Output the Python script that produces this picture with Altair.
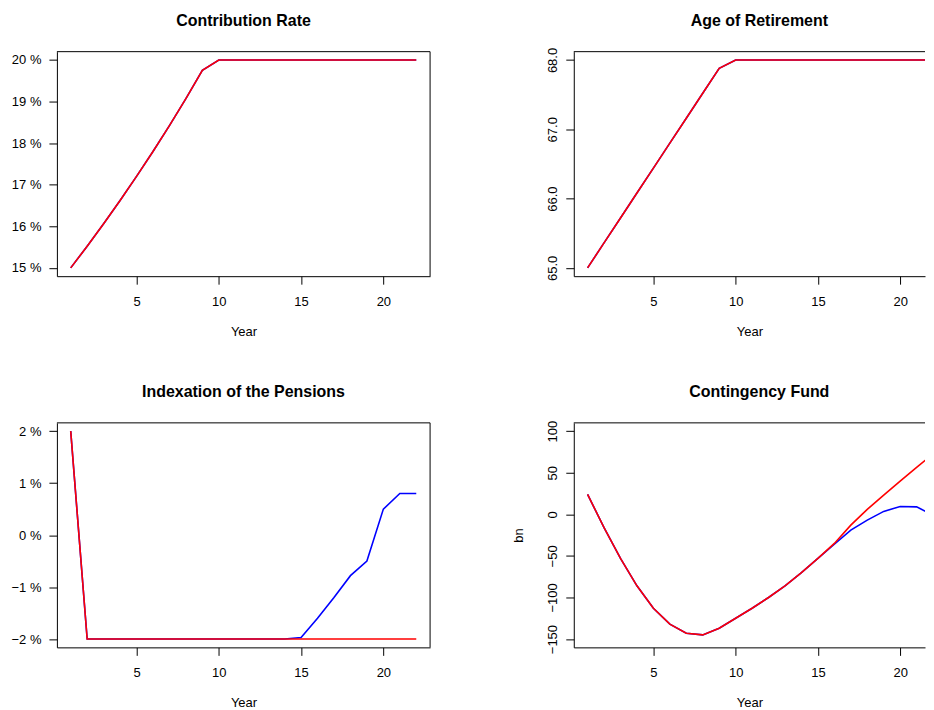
import altair as alt
import pandas as pd

years = [1, 2, 3, 4, 5, 6, 7, 8, 9, 10, 11, 12, 13, 14, 15, 16, 17, 18, 19, 20, 21, 22]

contrib_blue = [15.0, 15.52, 16.06, 16.62, 17.2, 17.8, 18.42, 19.07, 19.75, 20.0, 20.0,
                20.0, 20.0, 20.0, 20.0, 20.0, 20.0, 20.0, 20.0, 20.0, 20.0, 20.0]
contrib_red = [15.0, 15.52, 16.06, 16.62, 17.2, 17.8, 18.42, 19.07, 19.75, 20.0, 20.0,
               20.0, 20.0, 20.0, 20.0, 20.0, 20.0, 20.0, 20.0, 20.0, 20.0, 20.0]

age_blue = [65.0, 65.36, 65.72, 66.08, 66.44, 66.8, 67.16, 67.52, 67.88, 68.0, 68.0,
            68.0, 68.0, 68.0, 68.0, 68.0, 68.0, 68.0, 68.0, 68.0, 68.0, 68.0]
age_red = [65.0, 65.36, 65.72, 66.08, 66.44, 66.8, 67.16, 67.52, 67.88, 68.0, 68.0,
           68.0, 68.0, 68.0, 68.0, 68.0, 68.0, 68.0, 68.0, 68.0, 68.0, 68.0]

index_blue = [2.0, -2.0, -2.0, -2.0, -2.0, -2.0, -2.0, -2.0, -2.0, -2.0, -2.0,
              -2.0, -2.0, -2.0, -1.97, -1.6, -1.2, -0.78, -0.5, 0.5, 0.8, 0.8]
index_red = [2.0, -2.0, -2.0, -2.0, -2.0, -2.0, -2.0, -2.0, -2.0, -2.0, -2.0,
             -2.0, -2.0, -2.0, -2.0, -2.0, -2.0, -2.0, -2.0, -2.0, -2.0, -2.0]

fund_blue = [24, -16, -53, -86, -113, -132, -143, -145, -137, -125, -113,
             -100, -86, -70, -53, -36, -19, -7, 3.5, 9.5, 9, -1]
fund_red = [24, -16, -53, -86, -113, -132, -143, -145, -137, -125, -113,
            -100, -86, -70, -53, -35, -13, 6, 23, 40, 56.5, 72.5]

contrib_ticks = [15, 16, 17, 18, 19, 20]
age_ticks = [65.0, 65.5, 66.0, 66.5, 67.0, 67.5, 68.0]
index_ticks = [-2, -1, 0, 1, 2]
fund_ticks = [-150, -100, -50, 0, 50, 100]
year_ticks = [5, 10, 15, 20]

FONT = "Liberation Sans"
H = 225
W_LEFT = 374
W_RIGHT = 352
BLUE = "#0000FF"
RED = "#FF0000"


def make_df(blue, red):
    return pd.DataFrame({"year": years, "blue": blue, "red": red})


def panel(df, title, ydomain, xdomain, width, yaxis, ytitle, right_edge, title_dx, title_offset):
    x = alt.X("year:Q",
              scale=alt.Scale(domain=xdomain, nice=False, zero=False),
              axis=alt.Axis(values=year_ticks, title="Year", labelPadding=11,
                            titlePadding=17, labelFlush=False, format="d"))
    base = alt.Chart(df)
    blue = base.mark_line(color=BLUE, strokeWidth=1.6, clip=True).encode(
        x=x,
        y=alt.Y("blue:Q", scale=alt.Scale(domain=ydomain, nice=False, zero=False),
                axis=yaxis, title=ytitle),
    )
    red = base.mark_line(color=RED, strokeWidth=1.6, clip=True).encode(
        x=x,
        y=alt.Y("red:Q"),
    )
    one = alt.Chart(pd.DataFrame({"k": [0]}))
    top = one.mark_rule(color="black", strokeWidth=1).encode(
        x=alt.value(0), x2=alt.value(width), y=alt.value(0))
    layers = [blue, red, top]
    if right_edge:
        right = one.mark_rule(color="black", strokeWidth=1).encode(
            x=alt.value(width), y=alt.value(0), y2=alt.value(H))
        layers.append(right)
    return alt.layer(*layers).properties(
        width=width, height=H,
        title=alt.TitleParams(title, font=FONT, fontSize=16, fontWeight="bold",
                              color="black", offset=title_offset, baseline="alphabetic",
                              frame="group", anchor="middle", dx=title_dx),
    )


pct_axis = lambda vals: alt.Axis(values=vals, labelPadding=8, labelFlush=False,
                                 labelOverlap=False,
                                 labelExpr="format(datum.value, 'd') + ' %'")

rot_axis = lambda vals, expr: alt.Axis(values=vals, labelPadding=9, labelFlush=False,
                                       labelOverlap=False, labelAngle=270,
                                       labelAlign="center", labelBaseline="alphabetic",
                                       labelExpr=expr, titlePadding=24,
                                       titleBaseline="alphabetic")

xl = [0.16, 22.84]
xr = [0.16, 21.51]

tl = panel(make_df(contrib_blue, contrib_red), "Contribution Rate", [14.8, 20.2], xl,
           W_LEFT, pct_axis(contrib_ticks), None, True, 0, 9.5)
tr = panel(make_df(age_blue, age_red), "Age of Retirement", [64.88, 68.12], xr,
           W_RIGHT, rot_axis(age_ticks, "datum.value % 1 == 0 ? format(datum.value, '.1f') : ''"),
           None, False, 10, 5.5)
bl = panel(make_df(index_blue, index_red), "Indexation of the Pensions", [-2.16, 2.16], xl,
           W_LEFT, pct_axis(index_ticks), None, True, 0, 9.5)
br = panel(make_df(fund_blue, fund_red), "Contingency Fund", [-160, 110], xr,
           W_RIGHT, rot_axis(fund_ticks, "format(datum.value, 'd')"), "bn", False, 10, 7.5)

chart = alt.concat(tl, tr, bl, br, columns=2, spacing={"row": 147, "column": 144},
                   bounds="flush").properties(
    padding={"left": 2, "top": 3, "right": 0, "bottom": 0},
).configure_view(stroke="transparent").configure_axis(
    grid=False, domainColor="black", domainWidth=1, tickColor="black", tickSize=8,
    tickWidth=1, labelFont=FONT, labelFontSize=13, labelColor="black",
    titleFont=FONT, titleFontSize=13, titleFontWeight="normal", titleColor="black",
)

chart.save("out.html", embed_options={"renderer": "svg", "actions": False})
